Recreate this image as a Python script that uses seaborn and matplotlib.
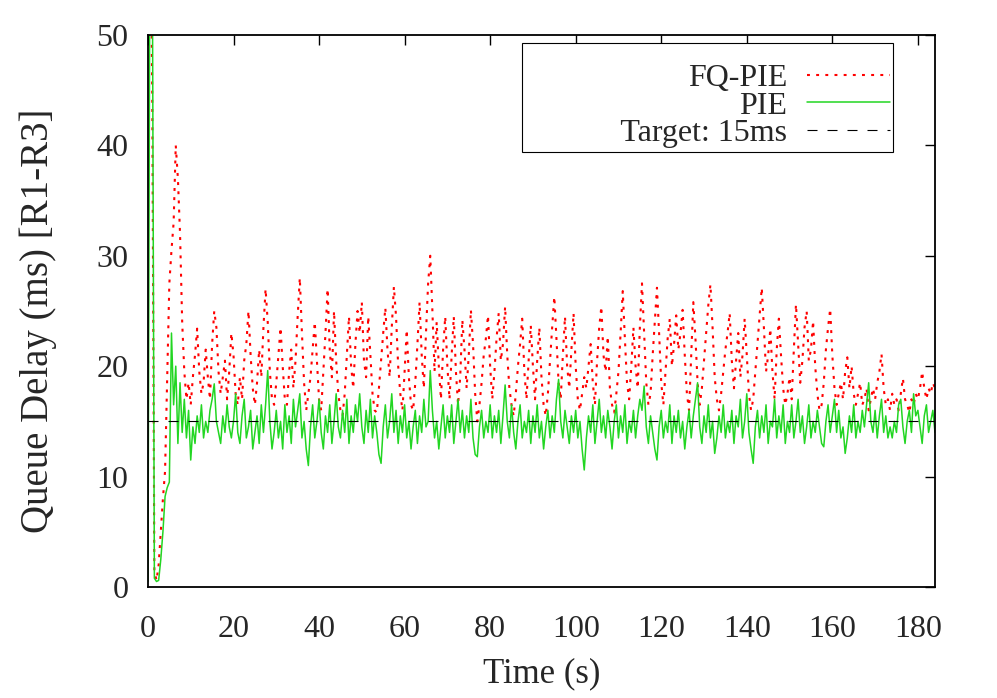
import numpy as np
import pandas as pd
import matplotlib
matplotlib.use('Agg')
import matplotlib.pyplot as plt
import seaborn as sns

# queue delay samples (ms), one every 0.5 s from t = 0 to 184 s
step = 0.5

fq_pie = [
    60.0, 65.0, 45.0, 1.5, 0.6, 2.0, 5.0, 8.0, 10.5, 19.0, 27.5, 30.5, 33.0, 40.0, 37.0, 32.0, 24.0, 19.5, 17.0, 18.5,
    16.5, 19.0, 21.0, 23.4, 19.5, 17.5, 18.5, 21.5, 19.0, 17.0, 22.0, 25.0, 23.5, 19.5, 17.5, 19.0, 20.5, 17.0, 19.5, 23.0,
    21.0, 17.5, 16.5, 19.0, 17.0, 20.5, 22.0, 25.0, 21.0, 18.0, 16.5, 18.5, 21.5, 19.0, 23.5, 27.0, 24.0, 19.5, 17.0, 16.5,
    18.5, 21.0, 23.5, 20.0, 17.0, 16.5, 19.5, 21.5, 18.0, 20.5, 24.5, 28.0, 23.0, 18.5, 16.0, 17.5, 19.0, 21.5, 24.0, 20.5,
    17.0, 16.0, 19.5, 23.0, 27.0, 21.5, 19.0, 25.0, 20.5, 17.5, 16.0, 15.5, 17.5, 21.0, 24.5, 20.0, 18.0, 22.0, 25.0, 23.0,
    25.8, 20.5, 19.0, 24.5, 21.0, 17.5, 16.0, 15.8, 18.0, 20.5, 23.0, 25.3, 21.5, 19.0, 23.5, 27.2, 24.5, 20.0, 17.5, 16.0,
    19.5, 23.3, 19.0, 16.5, 16.0, 18.5, 22.0, 25.8, 21.0, 18.0, 23.0, 27.5, 30.0, 25.0, 19.5, 24.0, 20.0, 17.0, 21.5, 24.5,
    20.0, 17.0, 21.0, 24.5, 19.5, 16.5, 19.0, 24.2, 21.5, 18.0, 21.0, 25.1, 22.0, 17.5, 15.0, 16.5, 18.5, 21.0, 22.5, 24.6,
    20.0, 17.0, 19.5, 22.5, 24.8, 20.5, 22.0, 25.4, 21.0, 18.0, 16.5, 15.5, 17.5, 20.0, 22.0, 24.3, 19.5, 17.0, 20.5, 23.7,
    20.0, 17.0, 20.5, 23.5, 19.0, 16.5, 15.5, 17.5, 20.5, 23.5, 26.3, 22.5, 18.5, 17.0, 21.0, 24.5, 20.0, 18.0, 21.5, 24.8,
    20.0, 17.0, 16.0, 17.5, 19.0, 18.0, 20.0, 22.0, 18.5, 16.5, 20.5, 23.5, 25.4, 21.0, 19.5, 22.7, 18.0, 16.5, 15.8, 17.5,
    19.5, 23.0, 26.8, 22.5, 18.5, 17.0, 20.0, 23.5, 20.0, 18.0, 23.5, 27.5, 23.0, 18.5, 16.5, 17.5, 21.0, 24.0, 27.1, 23.0,
    18.5, 16.5, 19.5, 22.5, 24.3, 20.0, 22.0, 24.6, 21.5, 23.0, 25.1, 21.0, 17.5, 16.0, 21.0, 25.8, 22.5, 18.5, 16.5, 18.0,
    20.5, 23.0, 25.5, 27.4, 23.5, 19.0, 17.0, 16.0, 17.5, 19.5, 21.5, 23.0, 24.8, 20.5, 18.0, 20.5, 23.0, 19.0, 21.0, 24.3,
    21.0, 17.5, 16.0, 17.0, 19.5, 22.0, 24.5, 27.1, 23.5, 19.5, 21.0, 23.4, 19.5, 17.0, 21.5, 24.3, 21.0, 18.0, 16.5, 17.5,
    19.0, 17.0, 21.5, 25.6, 22.0, 18.5, 20.5, 23.5, 25.0, 20.5, 21.5, 24.1, 20.0, 17.5, 16.0, 16.5, 18.5, 21.5, 23.5, 25.2,
    21.0, 18.0, 16.5, 17.5, 18.5, 17.0, 19.5, 20.8, 18.0, 20.0, 17.5, 16.5, 17.5, 18.5, 16.5, 17.0, 18.0, 16.0, 17.0, 18.0,
    17.0, 18.5, 19.5, 21.1, 18.0, 16.5, 17.0, 16.0, 17.5, 16.5, 17.0, 16.0, 17.5, 18.9, 17.0, 16.5, 15.8, 17.0, 16.5, 17.5,
    17.0, 18.0, 19.5, 18.0, 17.0, 18.0, 17.5, 18.5, 18.0,
]

pie = [
    0.5, 65.0, 60.0, 0.8, 0.5, 0.6, 2.5, 5.0, 8.2, 9.0, 9.5, 23.0, 16.5, 20.0, 13.0, 18.5, 14.0, 17.0, 13.5, 16.0,
    11.5, 14.5, 13.0, 15.5, 14.0, 16.5, 13.5, 15.0, 14.0, 16.0, 17.0, 18.4, 15.0, 14.0, 13.0, 15.5, 14.0, 16.5, 14.5, 13.5,
    15.0, 17.5, 14.0, 13.0, 15.5, 17.0, 13.5, 14.5, 16.0, 12.5, 14.0, 15.5, 13.0, 16.5, 14.0, 16.5, 19.6, 15.0, 12.5, 14.0,
    16.0, 13.5, 15.0, 12.5, 16.5, 14.0, 15.5, 13.0, 17.0, 14.5, 16.0, 17.5, 13.5, 15.0, 12.5, 11.0, 14.5, 16.5, 13.5, 15.0,
    17.0, 14.0, 12.5, 15.5, 14.0, 16.5, 13.0, 15.0, 17.5, 14.5, 13.5, 16.0, 14.0, 17.0, 13.0, 15.5, 14.0, 16.5, 15.0, 17.5,
    14.5, 13.0, 16.0, 14.0, 17.0, 13.5, 15.5, 14.0, 12.0, 11.2, 14.5, 16.5, 13.5, 15.0, 17.5, 14.0, 16.0, 13.0, 15.5, 14.0,
    16.5, 13.5, 15.0, 12.5, 14.5, 16.0, 13.0, 15.5, 14.0, 17.0, 14.5, 15.0, 19.6, 16.0, 13.5, 15.0, 12.5, 14.5, 16.5, 13.5,
    15.5, 14.0, 16.5, 13.0, 15.0, 17.0, 14.0, 16.0, 13.5, 15.5, 14.0, 17.0, 13.5, 12.0, 11.8, 14.5, 16.0, 13.5, 15.0, 14.0,
    16.5, 13.5, 15.5, 14.0, 16.0, 13.0, 15.5, 18.3, 15.0, 13.5, 16.5, 14.0, 12.5, 15.0, 16.5, 13.5, 15.0, 14.0, 16.0, 13.0,
    15.5, 14.0, 16.5, 13.5, 15.0, 12.5, 14.5, 16.0, 13.5, 15.5, 14.0, 17.0, 18.8, 15.0, 13.5, 16.0, 14.5, 13.0, 15.5, 14.0,
    16.0, 13.5, 15.0, 12.5, 10.6, 13.5, 15.5, 14.0, 16.5, 13.0, 15.0, 17.0, 14.0, 15.5, 13.5, 16.0, 14.5, 12.5, 15.0, 16.5,
    13.5, 15.5, 14.0, 16.5, 13.0, 15.0, 14.0, 16.0, 13.5, 15.5, 17.0, 16.0, 18.2, 14.5, 13.0, 15.5, 14.0, 12.5, 11.5, 14.5,
    16.0, 13.5, 15.0, 14.0, 16.5, 13.0, 15.5, 14.0, 16.0, 13.5, 15.0, 12.5, 14.5, 16.0, 13.5, 15.5, 17.0, 18.5, 14.5, 13.0,
    15.5, 14.0, 16.5, 13.5, 15.0, 12.1, 13.5, 15.5, 14.0, 16.5, 13.5, 15.0, 14.0, 16.0, 13.0, 15.5, 14.5, 17.0, 13.5, 15.0,
    17.5, 14.0, 12.5, 11.2, 14.5, 16.0, 13.5, 15.5, 14.0, 16.5, 13.0, 15.0, 14.5, 17.0, 13.5, 15.5, 14.0, 16.5, 13.0, 15.0,
    14.0, 16.5, 13.5, 15.0, 17.0, 14.0, 15.5, 13.0, 14.5, 16.5, 13.5, 15.0, 14.0, 16.0, 14.5, 13.0, 12.7, 15.0, 16.5, 14.0,
    15.5, 17.0, 14.0, 16.0, 13.5, 14.5, 12.1, 13.5, 15.5, 14.0, 16.5, 13.5, 15.0, 14.0, 16.0, 14.5, 16.5, 18.5, 15.0, 14.0,
    16.0, 13.5, 15.5, 17.0, 14.0, 15.5, 13.5, 14.5, 13.5, 15.0, 14.0, 16.5, 17.0, 14.5, 13.0, 15.0, 16.0, 14.0, 17.5, 15.5,
    16.0, 14.5, 13.0, 15.5, 16.5, 14.0, 15.0, 16.0, 14.0,
]

target = 15
x_ticks = [0, 20, 40, 60, 80, 100, 120, 140, 160, 180]
y_ticks = [0, 10, 20, 30, 40, 50]

time = np.arange(len(pie)) * step
df = pd.DataFrame({'Time': time, 'FQ-PIE': fq_pie, 'PIE': pie})

sns.set_theme(style='white')
plt.rcParams['font.family'] = ['Liberation Serif', 'DejaVu Serif']
plt.rcParams['font.size'] = 23

fig = plt.figure(figsize=(9.97, 6.98), dpi=100)
ax = fig.add_axes([0.1484, 0.159, 0.7894, 0.791])

sns.lineplot(data=df, x='Time', y='FQ-PIE', ax=ax, color='#ff0000', lw=1.5,
             linestyle=(0, (1.4, 3.0)), estimator=None, label='FQ-PIE')
sns.lineplot(data=df, x='Time', y='PIE', ax=ax, color='#22d622', lw=1.1,
             estimator=None, label='PIE')
ax.axhline(target, color='black', lw=0.8, linestyle=(0, (9, 9)),
           label='            Target: 15ms')

ax.set_xlim(0, 184)
ax.set_ylim(0, 50)
ax.set_xticks(x_ticks)
ax.set_yticks(y_ticks)
ax.set_xlabel('Time (s)', fontsize=25, labelpad=10)
ax.set_ylabel('Queue Delay (ms) [R1-R3]', fontsize=28)
ax.yaxis.set_label_coords(-0.116, 0.482)
ax.tick_params(axis='both', direction='in', length=7, width=1, color='black',
               top=True, right=True, labelsize=23)
ax.tick_params(axis='x', pad=20)
ax.tick_params(axis='y', pad=14)
for s in ax.spines.values():
    s.set_color('black')
    s.set_linewidth(1.3)

# markerfirst=False right-aligns the rows, so labels line up like gnuplot's key
leg = ax.legend(loc='upper right', bbox_to_anchor=(0.9465, 0.9856), borderaxespad=0,
                markerfirst=False, fancybox=False, framealpha=1, edgecolor='black',
                handlelength=2.6, handletextpad=0.6, labelspacing=-0.05,
                borderpad=0.1, fontsize=23, title=' ', title_fontsize=15)
leg.get_frame().set_linewidth(0.8)

plt.savefig('out.png', dpi=100)
